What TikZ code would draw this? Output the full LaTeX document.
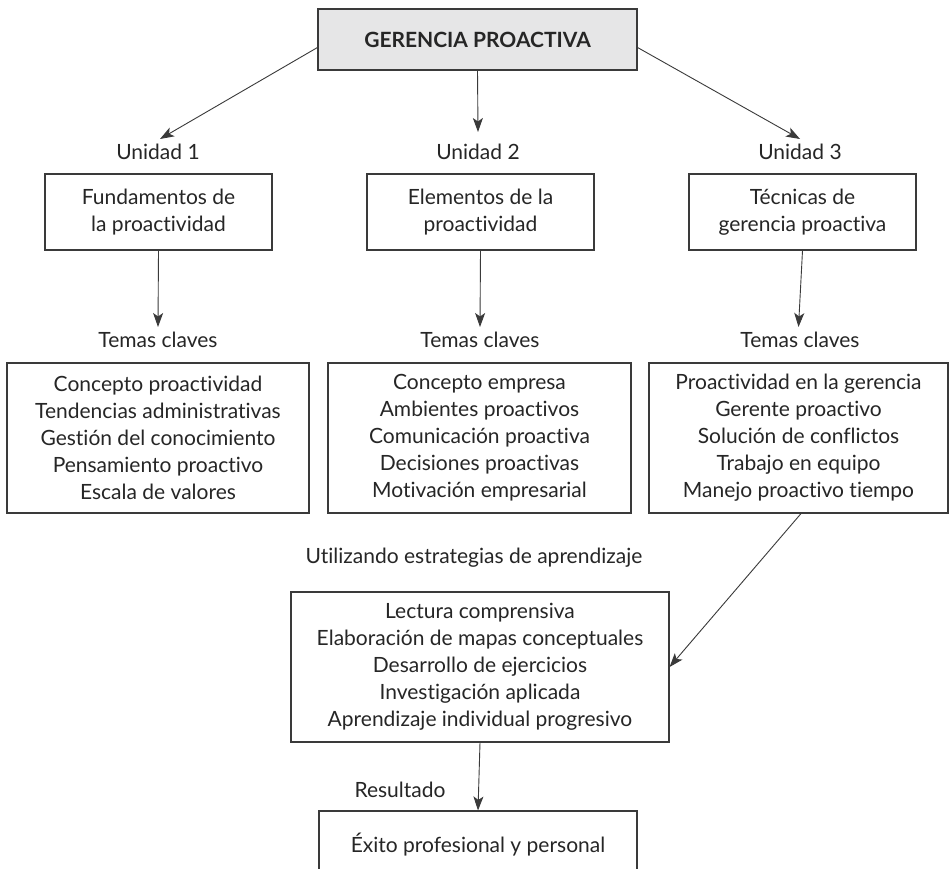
\documentclass[tikz,border=0pt]{standalone}
\usepackage{fontspec}
\setmainfont{Lato}[Ligatures=NoCommon]
\usetikzlibrary{arrows.meta}
\definecolor{txt}{HTML}{262626}
\definecolor{ln}{HTML}{3A3A3A}
\definecolor{topfill}{HTML}{E6E6E7}
\tikzset{
  box/.style={draw=ln, line width=1.1pt, text=txt, align=center, inner sep=0pt,
    font=\fontsize{21}{27}\selectfont},
  lbl/.style={text=txt, inner sep=0pt, font=\fontsize{21}{27}\selectfont},
  arr/.style={draw=ln, line width=0.9pt, -{Stealth[length=14pt,width=10pt,inset=3.5pt]}}
}
\begin{document}
\begin{tikzpicture}[x=1pt,y=-1pt]
\clip (0,0) rectangle (950,869);
\fill[white] (0,0) rectangle (950,869);
% top
\node[box, fill=topfill, minimum width=319pt, minimum height=61pt, font=\fontsize{21}{24}\selectfont\bfseries] (top) at (477.5,39.5) {GERENCIA PROACTIVA};
% unit labels
\node[lbl] (u1) at (158,152) {Unidad 1};
\node[lbl] (u2) at (478,152) {Unidad 2};
\node[lbl] (u3) at (800,152) {Unidad 3};
% unit boxes
\node[box, minimum width=227pt, minimum height=76pt] (ub1) at (158.5,212) {Fundamentos de\\la proactividad};
\node[box, minimum width=227pt, minimum height=76pt] (ub2) at (480.5,212) {Elementos de la\\proactividad};
\node[box, minimum width=227pt, minimum height=76pt] (ub3) at (802.5,212) {Técnicas de\\gerencia proactiva};
% temas labels
\node[lbl] (t1) at (158,340) {Temas claves};
\node[lbl] (t2) at (480,340) {Temas claves};
\node[lbl] (t3) at (800,340) {Temas claves};
% temas boxes
\node[box, minimum width=302pt, minimum height=150pt] (tb1) at (158,438) {Concepto proactividad\\Tendencias administrativas\\Gestión del conocimiento\\Pensamiento proactivo\\Escala de valores};
\node[box, minimum width=303pt, minimum height=150pt] (tb2) at (479.5,438) {Concepto empresa\\Ambientes proactivos\\Comunicación proactiva\\Decisiones proactivas\\Motivación empresarial};
\node[box, minimum width=299pt, minimum height=150pt] (tb3) at (798.5,438) {Proactividad en la gerencia\\Gerente proactivo\\Solución de conflictos\\Trabajo en equipo\\Manejo proactivo tiempo};
% strategies
\node[lbl] (util) at (474,558) {Utilizando estrategias de aprendizaje};
\node[box, minimum width=378pt, minimum height=150pt] (sb) at (480,667) {Lectura comprensiva\\Elaboración de mapas conceptuales\\Desarrollo de ejercicios\\Investigación aplicada\\Aprendizaje individual progresivo};
% result
\node[lbl] (res) at (400,790) {Resultado};
\node[box, minimum width=318pt, minimum height=78pt] (eb) at (478,850) {};
\node[lbl] (ebt) at (478,845) {Éxito profesional y personal};
% arrows
\draw[arr] ([yshift=-8pt]top.west) -- ([xshift=2pt,yshift=13pt]u1.center);
\draw[arr] (top.south) -- ([yshift=20pt]u2.center);
\draw[arr] ([yshift=-8pt]top.east) -- ([yshift=13pt]u3.center);
\draw[arr] (ub1.south) -- ([yshift=13pt]t1.center);
\draw[arr] (ub2.south) -- ([yshift=13pt]t2.center);
\draw[arr] (ub3.south) -- ([xshift=-1.5pt,yshift=13pt]t3.center);
\draw[arr] ([xshift=2.5pt]tb3.south) -- (sb.east);
\draw[arr] (sb.south) -- (eb.north);
\end{tikzpicture}
\end{document}
